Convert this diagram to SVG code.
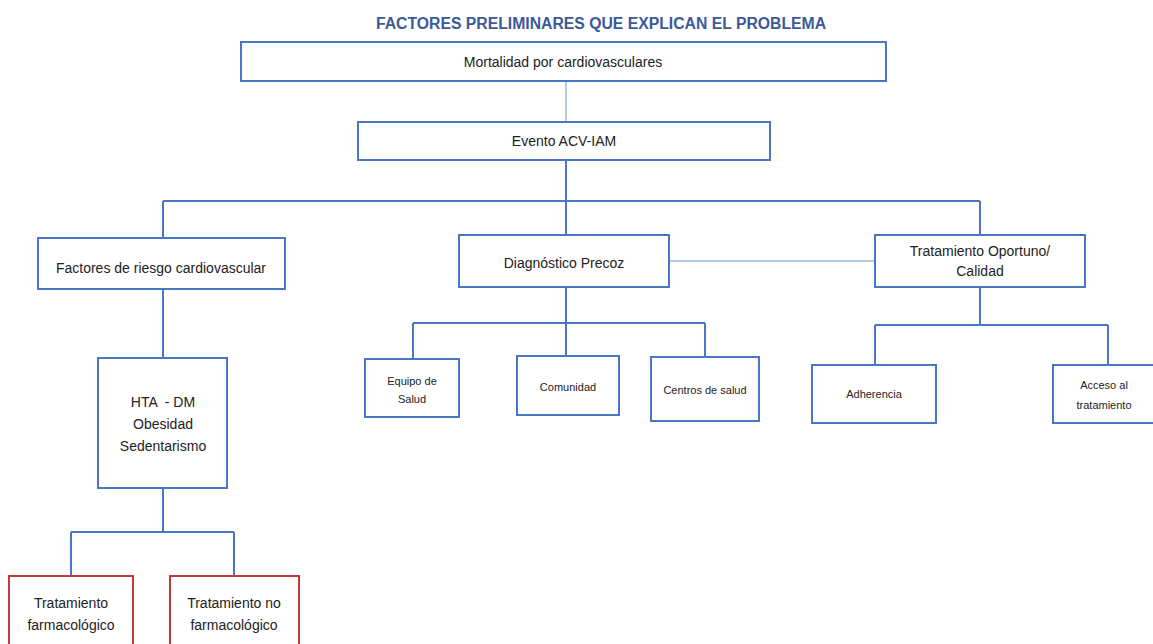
<svg xmlns="http://www.w3.org/2000/svg" width="1153" height="644" viewBox="0 0 1153 644">
<style>
.b{fill:#fff;stroke:#4a76c6;stroke-width:2}
.r{fill:#fff;stroke:#c0393b;stroke-width:2}
.t{font-family:"Liberation Sans",Arial,sans-serif;font-size:14px;fill:#222;text-anchor:middle}
.s{font-family:"Liberation Sans",Arial,sans-serif;font-size:11px;fill:#222;text-anchor:middle}
.c{fill:none;stroke:#4a76c6;stroke-width:2}
.l{fill:none;stroke:#9cb7e0;stroke-width:1.5}
</style>
<rect width="1153" height="644" fill="#fff"/>
<text x="601" y="29" font-family="Liberation Sans,Arial,sans-serif" font-size="16" font-weight="bold" fill="#3b5a9a" text-anchor="middle" textLength="450" lengthAdjust="spacingAndGlyphs">FACTORES PRELIMINARES QUE EXPLICAN EL PROBLEMA</text>
<g id="connectors">
<path class="l" d="M566 81V122"/>
<path class="c" d="M566 160V201M163 201H980M163 201V238M566 201V235M980 201V235"/>
<path class="l" d="M669 261H875"/>
<path class="c" d="M163 289V358M163 488V532M71 532H234M71 532V576M234 532V576"/>
<path class="c" d="M566 287V323M413 323H705M413 323V359M566 323V356M705 323V357"/>
<path class="c" d="M980 287V325M875 325H1108M875 325V365M1108 325V365"/>
</g>
<g id="n-mortalidad"><rect class="b" x="241" y="42" width="645" height="39"/><text class="t" x="563" y="67">Mortalidad por cardiovasculares</text></g>
<g id="n-evento"><rect class="b" x="358" y="122" width="412" height="38"/><text class="t" x="564" y="146">Evento ACV-IAM</text></g>
<g id="n-factores"><rect class="b" x="38" y="238" width="247" height="51"/><text class="t" x="161" y="273">Factores de riesgo cardiovascular</text></g>
<g id="n-diagnostico"><rect class="b" x="459" y="235" width="210" height="52"/><text class="t" x="564" y="268">Diagnóstico Precoz</text></g>
<g id="n-tratamiento"><rect class="b" x="875" y="235" width="210" height="52"/><text class="t" x="980" y="256">Tratamiento Oportuno/</text><text class="t" x="980" y="276">Calidad</text></g>
<g id="n-hta"><rect class="b" x="98" y="358" width="129" height="130"/><text class="t" x="163" y="407" xml:space="preserve">HTA  - DM</text><text class="t" x="163" y="429">Obesidad</text><text class="t" x="163" y="451">Sedentarismo</text></g>
<g id="n-farm"><rect class="r" x="9" y="576" width="124" height="80"/><text class="t" x="71" y="608">Tratamiento</text><text class="t" x="71" y="630">farmacológico</text></g>
<g id="n-nofarm"><rect class="r" x="170" y="576" width="129" height="80"/><text class="t" x="234" y="608">Tratamiento no</text><text class="t" x="234" y="630">farmacológico</text></g>
<g id="n-equipo"><rect class="b" x="365" y="359" width="94" height="58"/><text class="s" x="412" y="385">Equipo de</text><text class="s" x="412" y="403">Salud</text></g>
<g id="n-comunidad"><rect class="b" x="517" y="356" width="102" height="59"/><text class="s" x="568" y="391">Comunidad</text></g>
<g id="n-centros"><rect class="b" x="651" y="357" width="108" height="64"/><text class="s" x="705" y="394">Centros de salud</text></g>
<g id="n-adherencia"><rect class="b" x="812" y="365" width="124" height="58"/><text class="s" x="874" y="398">Adherencia</text></g>
<g id="n-acceso"><rect class="b" x="1053" y="365" width="110" height="58"/><text class="s" x="1104" y="389">Acceso al</text><text class="s" x="1104" y="409">tratamiento</text></g>
</svg>
